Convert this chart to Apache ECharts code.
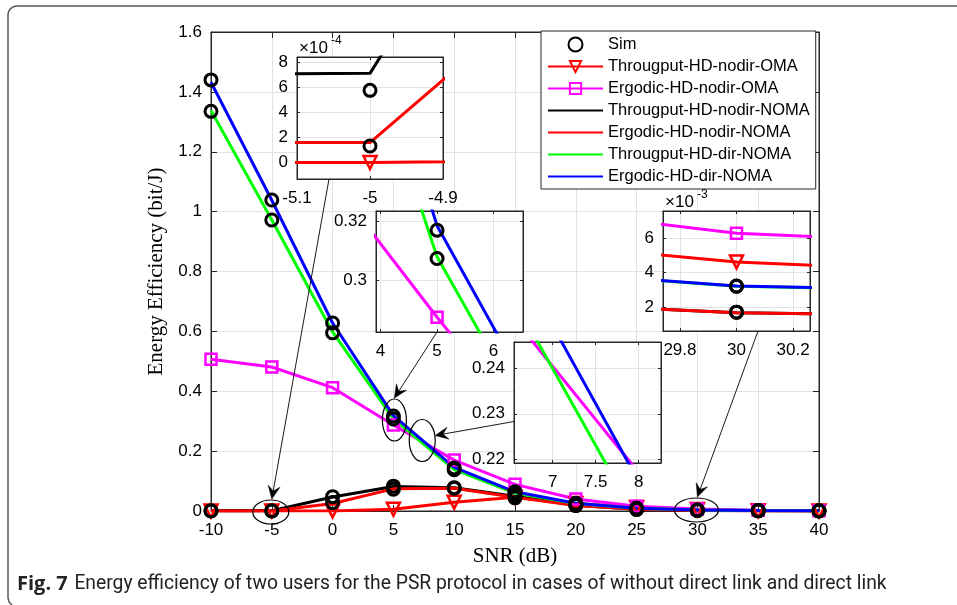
<!DOCTYPE html>
<html><head><meta charset="utf-8">
<script src="https://cdn.jsdelivr.net/npm/echarts@6/dist/echarts.min.js"></script>
<style>html,body{margin:0;padding:0;background:#fff;}#c{width:957px;height:605px;}</style>
</head><body><div id="c"></div>
<script>
// ---------------- data ----------------
const snr = [-10, -5, 0, 5, 10, 15, 20, 25, 30, 35, 40];
const thrOMA   = [0, 0.000001, 0.0003, 0.006, 0.029, 0.046, 0.025, 0.0121, 0.00463, 0.0010, 0.0004];
const ergOMA   = [0.507, 0.481, 0.412, 0.2875, 0.170, 0.089, 0.040, 0.0162, 0.0063, 0.0027, 0.0012];
const thrNOMA  = [0.0006, 0.00071, 0.047, 0.082, 0.078, 0.049, 0.019, 0.0055, 0.00167, 0.00052, 0.00017];
const ergNOMA  = [0.00015, 0.00016, 0.025, 0.074, 0.076, 0.046, 0.018, 0.0055, 0.00167, 0.00052, 0.00017];
const thrDir   = [1.338, 0.972, 0.598, 0.308, 0.138, 0.060, 0.025, 0.0091, 0.00321, 0.0017, 0.0008];
const ergDir   = [1.432, 1.038, 0.628, 0.3185, 0.146, 0.064, 0.026, 0.0092, 0.00322, 0.0017, 0.0008];
const simErgDir  = [1.44, 1.039, 0.628, 0.317, 0.144, 0.064, 0.026, 0.0092, 0.00322, 0.0017, 0.0008];
const simThrDir  = [1.335, 0.972, 0.595, 0.3074, 0.138, 0.058, 0.025, 0.0091, 0.00321, 0.0017, 0.0008];
const simThrNOMA = [0.0006, 0.000575, 0.048, 0.083, 0.078, 0.050, 0.019, 0.0055, 0.0017, 0.00052, 0.00017];
const simErgNOMA = [0.00015, 0.000132, 0.028, 0.073, 0.076, 0.044, 0.018, 0.0055, 0.0017, 0.00052, 0.00017];

const seriesNames = ['Sim', 'Througput-HD-nodir-OMA', 'Ergodic-HD-nodir-OMA', 'Througput-HD-nodir-NOMA',
  'Ergodic-HD-nodir-NOMA', 'Througput-HD-dir-NOMA', 'Ergodic-HD-dir-NOMA'];

const mainXRange = [-10, 40], mainYRange = [0, 1.6];
const mainXTicks = [-10, -5, 0, 5, 10, 15, 20, 25, 30, 35, 40];
const mainYTicks = [0, 0.2, 0.4, 0.6, 0.8, 1.0, 1.2, 1.4, 1.6];
const inset1XRange = [-5.1, -4.9], inset1YRange = [-0.00013, 0.00084];
const inset1XTicks = [-5.1, -5, -4.9], inset1YTicks = [0, 0.0002, 0.0004, 0.0006, 0.0008];
const inset2XRange = [3.92, 6.52], inset2YRange = [0.2825, 0.3235];
const inset2XTicks = [4, 5, 6], inset2YTicks = [0.3, 0.32];
const inset3XRange = [6.55, 8.26], inset3YRange = [0.2191, 0.2459];
const inset3XTicks = [7, 7.5, 8], inset3YTicks = [0.22, 0.23, 0.24];
const inset4XRange = [29.74, 30.26], inset4YRange = [0.0006, 0.0076];
const inset4XTicks = [29.8, 30, 30.2], inset4YTicks = [0.002, 0.004, 0.006];

const captionBold = 'Fig. 7';
const captionText = 'Energy efficiency of two users for the PSR protocol in cases of without direct link and direct link';
const xTitle = 'SNR (dB)';
const yTitle = 'Energy Efficiency (bit/J)';

// ---------------- styling / layout ----------------
const SANS = '"Liberation Sans", Arial, Helvetica, sans-serif';
const SERIF = '"Liberation Serif", "Times New Roman", serif';
const AX = '#262626', GRIDC = '#e3e3e3';
const grids = [
  {left: 211, top: 32, width: 608, height: 479},
  {left: 297, top: 57, width: 146, height: 122},
  {left: 376, top: 211, width: 147, height: 121},
  {left: 514, top: 342, width: 147, height: 121},
  {left: 663, top: 211, width: 147, height: 120}
];
const lineDefs = [
  {name: seriesNames[1], data: thrOMA, color: '#ff0000', symbol: 'triangle', size: 13, rotate: 180},
  {name: seriesNames[2], data: ergOMA, color: '#ff00ff', symbol: 'rect', size: 11},
  {name: seriesNames[3], data: thrNOMA, color: '#000000', symbol: 'none'},
  {name: seriesNames[4], data: ergNOMA, color: '#ff0000', symbol: 'none'},
  {name: seriesNames[5], data: thrDir, color: '#00ff00', symbol: 'none'},
  {name: seriesNames[6], data: ergDir, color: '#0000ff', symbol: 'none'}
];
const simSets = [simErgDir, simThrDir, simThrNOMA, simErgNOMA];

const fmt1 = v => String(+(+v).toFixed(2));
const fmtE4 = v => String(Math.round(v * 1e4));
const fmtE3 = v => String(Math.round(v * 1e3));

const xAxes = [], yAxes = [], series = [];
function addAxes(gi, xr, yr, xt, yt, xf, yf, tickLen, z, names) {
  const lab = {color: '#000', fontSize: 17, fontFamily: SANS};
  const base = {type: 'value', gridIndex: gi, z: z};
  xAxes.push(Object.assign({}, base, {
    min: xr[0], max: xr[1], position: 'bottom',
    axisLine: {show: true, onZero: false, lineStyle: {color: AX, width: 1}},
    axisTick: {show: true, inside: true, length: tickLen, customValues: xt, lineStyle: {color: AX, width: 1}},
    axisLabel: Object.assign({show: true, customValues: xt, formatter: xf, margin: 11}, lab),
    splitLine: {show: true, lineStyle: {color: GRIDC, width: 1}}
  }, names ? {name: names[0], nameLocation: 'middle', nameGap: 35,
    nameTextStyle: {fontFamily: SERIF, fontSize: 21, color: '#000'}} : {}));
  xAxes.push(Object.assign({}, base, {
    min: xr[0], max: xr[1], position: 'top',
    axisLine: {show: true, onZero: false, lineStyle: {color: AX, width: 1}},
    axisTick: {show: true, inside: true, length: tickLen, customValues: xt, lineStyle: {color: AX, width: 1}},
    axisLabel: {show: false}, splitLine: {show: false}
  }));
  yAxes.push(Object.assign({}, base, {
    min: yr[0], max: yr[1], position: 'left',
    axisLine: {show: true, onZero: false, lineStyle: {color: AX, width: 1}},
    axisTick: {show: true, inside: true, length: tickLen, customValues: yt, lineStyle: {color: AX, width: 1}},
    axisLabel: Object.assign({show: true, customValues: yt, formatter: yf, margin: 9}, lab),
    splitLine: {show: true, lineStyle: {color: GRIDC, width: 1}}
  }, names ? {name: names[1], nameLocation: 'middle', nameGap: 42, nameRotate: 90,
    nameTextStyle: {fontFamily: SERIF, fontSize: 21, color: '#000'}} : {}));
  yAxes.push(Object.assign({}, base, {
    min: yr[0], max: yr[1], position: 'right',
    axisLine: {show: true, onZero: false, lineStyle: {color: AX, width: 1}},
    axisTick: {show: true, inside: true, length: tickLen, customValues: yt, lineStyle: {color: AX, width: 1}},
    axisLabel: {show: false}, splitLine: {show: false}
  }));
}
function addSeries(gi, z) {
  lineDefs.forEach(d => {
    series.push({
      type: 'line', name: d.name, xAxisIndex: 2 * gi, yAxisIndex: 2 * gi, z: z,
      data: snr.map((x, i) => [x, d.data[i]]),
      symbol: d.symbol, symbolSize: d.size || 0, symbolRotate: d.rotate || 0,
      showSymbol: d.symbol !== 'none', showAllSymbol: true,
      lineStyle: {color: d.color, width: 3},
      itemStyle: {color: 'rgba(255,255,255,0)', borderColor: d.color, borderWidth: 2.5, opacity: 1},
      emphasis: {disabled: true}, silent: true, animation: false, clip: true
    });
  });
  const simData = [];
  simSets.forEach(arr => snr.forEach((x, i) => simData.push([x, arr[i]])));
  series.push({
    type: 'scatter', name: seriesNames[0], xAxisIndex: 2 * gi, yAxisIndex: 2 * gi, z: z + 1,
    data: simData, symbol: 'circle', symbolSize: 12,
    itemStyle: {color: 'rgba(255,255,255,0)', borderColor: '#000', borderWidth: 3, opacity: 1},
    emphasis: {disabled: true}, silent: true, animation: false, clip: true
  });
}

addAxes(0, mainXRange, mainYRange, mainXTicks, mainYTicks, fmt1, fmt1, 6, 0, [xTitle, yTitle]);
addAxes(1, inset1XRange, inset1YRange, inset1XTicks, inset1YTicks, fmt1, fmtE4, 3, 6);
addAxes(2, inset2XRange, inset2YRange, inset2XTicks, inset2YTicks, fmt1, fmt1, 3, 6);
addAxes(3, inset3XRange, inset3YRange, inset3XTicks, inset3YTicks, fmt1, fmt1, 3, 6);
addAxes(4, inset4XRange, inset4YRange, inset4XTicks, inset4YTicks, fmt1, fmtE3, 3, 6);
addSeries(0, 2);
for (let g = 1; g <= 4; g++) addSeries(g, 7);

const legendData = seriesNames.map((n, i) => {
  const d = lineDefs[i - 1];
  if (d && d.symbol === 'none') {
    return {name: n, itemStyle: {color: 'rgba(0,0,0,0)', borderColor: 'rgba(0,0,0,0)', borderWidth: 0}};
  }
  return {name: n};
});

const chart = echarts.init(document.getElementById('c'), null, {renderer: 'canvas'});
chart.setOption({
  animation: false,
  backgroundColor: '#ffffff',
  grid: grids.map((g, i) => Object.assign({show: true, backgroundColor: '#fff', borderColor: AX, borderWidth: 1,
    containLabel: false, z: i === 0 ? 0 : 5}, g)),
  xAxis: xAxes, yAxis: yAxes, series: series,
  legend: {
    orient: 'vertical', left: 541, top: 31, padding: [5, 6, 4, 6], itemGap: 5,
    itemWidth: 55, itemHeight: 14, align: 'left', backgroundColor: '#fff',
    borderColor: AX, borderWidth: 1, selectedMode: false, z: 10,
    textStyle: {fontSize: 16.5, fontFamily: SANS, color: '#000', lineHeight: 17},
    data: legendData
  }
});

// ---------------- annotations ----------------
function px(gi, x, y) { return chart.convertToPixel({gridIndex: gi}, [x, y]); }
const els = [];
function ellipse(c, rx, ry) {
  els.push({type: 'ellipse', z: 9, silent: true, shape: {cx: c[0], cy: c[1], rx: rx, ry: ry},
    style: {fill: null, stroke: '#000', lineWidth: 1.2}});
}
function arrow(x0, y0, x1, y1) {
  const dx = x1 - x0, dy = y1 - y0, L = Math.hypot(dx, dy), ux = dx / L, uy = dy / L;
  const nx = -uy, ny = ux, hl = 13, hw = 6, nd = 8;
  els.push({type: 'line', z: 9, silent: true, shape: {x1: x0, y1: y0, x2: x1 - ux * nd, y2: y1 - uy * nd},
    style: {stroke: '#000', lineWidth: 0.9}});
  els.push({type: 'polygon', z: 9, silent: true, shape: {points: [
    [x1, y1], [x1 - ux * hl + nx * hw, y1 - uy * hl + ny * hw],
    [x1 - ux * nd, y1 - uy * nd], [x1 - ux * hl - nx * hw, y1 - uy * hl - ny * hw]]},
    style: {fill: '#000', stroke: '#000', lineWidth: 0.5}});
}
const e1 = px(0, -5, 0), e2 = px(0, 5, 0.304), e3 = px(0, 7.37, 0.2355), e4 = px(0, 30, 0);
ellipse([e1[0] - 1, e1[1] + 1], 18, 12);
ellipse([e2[0] + 1, e2[1]], 12, 21);
ellipse(e3, 13, 21);
ellipse([e4[0] - 1, e4[1] - 1], 22, 12);
arrow(329, grids[1].top + grids[1].height, e1[0], e1[1] + 1 - 13);
arrow(437, grids[2].top + grids[2].height, e2[0] + 1, e2[1] - 22);
arrow(grids[3].left, 421.5, e3[0] + 13, e3[1] - 5);
arrow(758, grids[4].top + grids[4].height, e4[0], e4[1] - 14);

// exponent labels
function expo(g, e) {
  els.push({type: 'text', z: 9, silent: true, x: g.left + 2, y: g.top - 9,
    style: {text: '×10', fill: '#000', font: '17px ' + SANS, verticalAlign: 'middle', align: 'left'}});
  els.push({type: 'text', z: 9, silent: true, x: g.left + 34, y: g.top - 16,
    style: {text: e, fill: '#000', font: '12px ' + SANS, verticalAlign: 'middle', align: 'left'}});
}
expo(grids[1], '-4');
expo(grids[4], '-3');

// frame (rounded top-left corner)
const framePts = [[957, 6]];
for (let k = 0; k <= 8; k++) {
  const a = Math.PI / 2 + (Math.PI / 2) * k / 8;
  framePts.push([17 + 9 * Math.cos(a), 15 - 9 * Math.sin(a)]);
}
framePts.push([8, 598], [9, 602], [12, 605]);
els.push({type: 'polyline', z: 1, silent: true, shape: {points: framePts},
  style: {fill: null, stroke: '#5a5a5a', lineWidth: 1.5}});
// caption
els.push({type: 'text', z: 9, silent: true, x: 17, y: 584, style: {
  text: '{b|' + captionBold + '}  {n|' + captionText + '}', verticalAlign: 'middle', align: 'left',
  rich: {b: {fontFamily: '"Open Sans", sans-serif', fontWeight: 'bold', fontSize: 20, fill: '#222'},
         n: {fontFamily: 'Roboto, sans-serif', fontSize: 19.3, fill: '#222'}}}});
chart.setOption({graphic: {elements: els}});
</script></body></html>
